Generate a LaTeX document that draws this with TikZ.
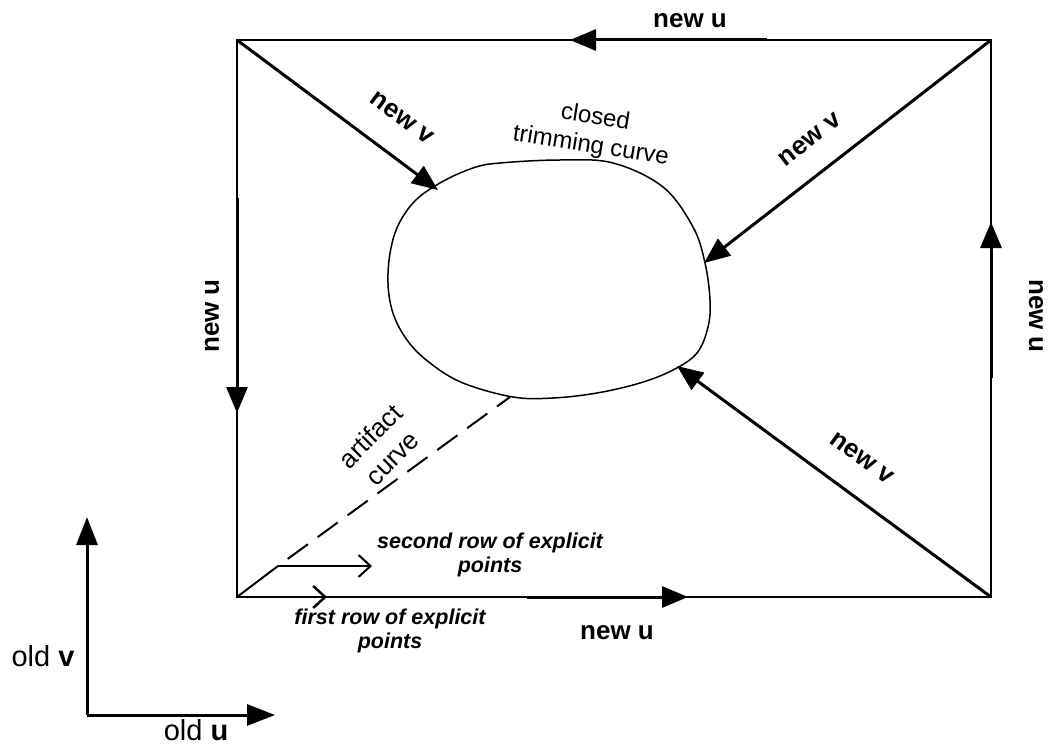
\documentclass[tikz,border=0pt]{standalone}
\usepackage{fontspec}
\setmainfont{Liberation Sans}
\usetikzlibrary{arrows.meta}
\begin{document}
\begin{tikzpicture}[x=1pt,y=-1pt,
  edge/.style={line width=1.5pt},
  bigarrow/.style={line width=3pt,-{Triangle[length=26pt,width=21pt]}},
  openarrow/.style={line width=2pt,-{Straight Barb[length=12pt,width=22pt]}},
  newlab/.style={font=\fontsize{26}{30}\selectfont\bfseries, inner sep=0pt},
  plainlab/.style={font=\fontsize{24}{29}\selectfont, align=center, inner sep=0pt},
  artlab/.style={font=\fontsize{26}{31}\selectfont, align=center, inner sep=0pt},
  rowlab/.style={font=\fontsize{21.5}{23.5}\selectfont\bfseries\itshape, align=center, inner sep=0pt},
  oldlab/.style={font=\fontsize{29}{34}\selectfont, inner sep=0pt}]
\path[use as bounding box] (0,0) rectangle (1049,746);

% corners
\coordinate (tl) at (237,40);
\coordinate (tr) at (991,40);
\coordinate (bl) at (237,597);
\coordinate (br) at (991,597);

% rectangle
\draw[edge] (tl) -- (tr) -- (br) -- (bl) -- cycle;

% trimming curve
\draw[edge] plot[smooth cycle, tension=0.6] coordinates {
  (500,163) (560,160) (613,163) (663,187) (693,227) (705,263) (710,300)
  (708,327) (697,353) (673,370) (640,383) (597,393) (553,398) (513,397)
  (463,383) (430,363) (407,340) (392,310) (388,273) (395,233) (413,203)
  (440,183) (473,168)};

% edge arrows
\coordinate (topS) at (767,40);  \coordinate (topE) at (570,40);
\coordinate (leftS) at (237,198); \coordinate (leftE) at (237,413);
\coordinate (rightS) at (991,378); \coordinate (rightE) at (991,222);
\coordinate (botS) at (527,597); \coordinate (botE) at (688,597);
\draw[bigarrow] (topS) -- (topE);
\draw[bigarrow] (leftS) -- (leftE);
\draw[bigarrow] (rightS) -- (rightE);
\draw[bigarrow] (botS) -- (botE);

% diagonal arrows to the curve
\coordinate (c1) at (438,190);
\coordinate (c2) at (704,263);
\coordinate (c3) at (677,366);
\draw[bigarrow] (tl) -- (c1);
\draw[bigarrow] (tr) -- (c2);
\draw[bigarrow] (br) -- (c3);

% artifact curve
\coordinate (s2) at (278,566);
\coordinate (artE) at (510,397);
\draw[line width=2pt] (bl) -- (s2);
\draw[line width=2pt, dash pattern=on 25pt off 12pt, dash phase=25pt] (s2) -- (artE);

% rows of explicit points
\coordinate (s2E) at (372,566);
\coordinate (s1E) at (327,597);
\draw[openarrow] (s2) -- (s2E);
\draw[openarrow, line width=2.5pt] (bl) -- (s1E);

% labels
\node[newlab] (lTop) at (690,21) {new u};
\node[newlab, rotate=90] (lLeft) at (212,316) {new u};
\node[newlab, rotate=-90] (lRight) at (1036,316) {new u};
\node[newlab] (lBot) at (617,633) {new u};
\node[newlab, rotate=-36.7] (lV1) at (402,118) {new v};
\node[newlab, rotate=38.3] (lV2) at (810,140) {new v};
\node[newlab, rotate=-36.5] (lV3) at (862,458) {new v};
\node[plainlab, rotate=-9] (lClosed) at (593,132) {closed\\trimming curve};
\node[artlab, rotate=45] (lArt) at (381,447) {artifact\\curve};
\node[rowlab] (lSecond) at (490,555) {second row of explicit\\points};
\node[rowlab] (lFirst) at (390,631) {first row of explicit\\points};

% old axes
\coordinate (o) at (87,715);
\coordinate (ov) at (87,517);
\coordinate (ou) at (275,715);
\draw[line width=3pt, -{Triangle[length=28pt,width=21pt]}] (o) -- (ov);
\draw[line width=3pt, -{Triangle[length=28pt,width=21pt]}] (o) -- (ou);
\node[oldlab] (lOldV) at (43,656) {old \textbf{v}};
\node[oldlab] (lOldU) at (196,730) {old \textbf{u}};
\end{tikzpicture}
\end{document}
